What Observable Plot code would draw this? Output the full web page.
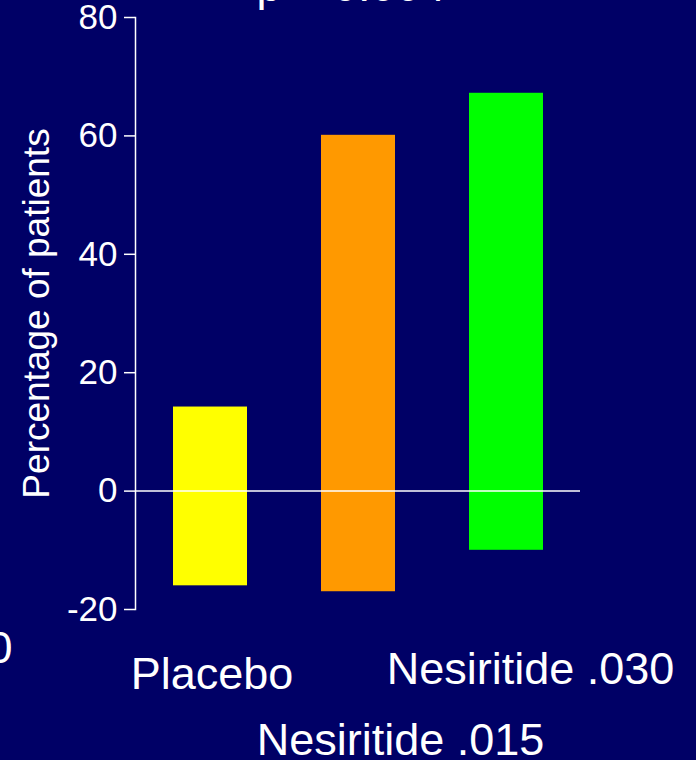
<!DOCTYPE html>
<html><head><meta charset="utf-8">
<script src="https://cdn.jsdelivr.net/npm/d3@7"></script>
<script src="https://cdn.jsdelivr.net/npm/@observablehq/plot@0.6"></script>
<style>html,body{margin:0;padding:0;background:#000066;overflow:hidden}</style>
</head><body><div id="chart"></div>
<script>
const categories = ["Placebo", "Nesiritide .015", "Nesiritide .030"];
const lowValues = [-16, -17, -10];
const highValues = [14.2, 60.1, 67.2];
const barColors = ["#ffff00", "#ff9900", "#00ff00"];
const yTicks = [-20, 0, 20, 40, 60, 80];
const yLabel = "Percentage of patients";
const titleText = "p = 0.004";
const edgeText = "0";

const data = categories.map((c, i) => ({category: c, low: lowValues[i], high: highValues[i], color: barColors[i]}));
// per-label placement (staggered labels as in the slide)
const labelPlacement = [{dx: 1.5, pad: 48}, {dx: 42, pad: 114}, {dx: 24, pad: 43}];
const font = "'Liberation Sans', Arial, Helvetica, sans-serif";

const chart = Plot.plot({
  width: 696,
  height: 760,
  marginLeft: 135,
  marginRight: 116,
  marginTop: 17,
  marginBottom: 151,
  style: {background: "#000066", color: "white", fontFamily: font, overflow: "visible"},
  x: {type: "band", domain: categories, paddingInner: 0.5, paddingOuter: 0.25, axis: null},
  y: {domain: [-20, 80], axis: null},
  marks: [
    Plot.barY(data, {x: "category", y1: "low", y2: "high", fill: "color"}),
    Plot.ruleY([0], {stroke: "white", strokeWidth: 1.5}),
    Plot.frame({anchor: "left", stroke: "white", strokeWidth: 1.5}),
    Plot.axisY({
      ticks: yTicks, tickSize: 11, tickPadding: 7, fontSize: 35, stroke: "white", strokeWidth: 1.5,
      fill: "white", tickFormat: d => String(d), label: null
    }),
    Plot.axisY({
      ticks: [], fontSize: 37, fill: "white", label: yLabel, labelAnchor: "center",
      labelOffset: 113, labelArrow: "none"
    }),
    ...categories.map((c, i) => Plot.axisX({
      ticks: [c], tickSize: 0, tickPadding: labelPlacement[i].pad, dx: labelPlacement[i].dx,
      fontSize: 45, fill: "white", label: null
    })),
    Plot.text([titleText], {frameAnchor: "top", dx: -7, dy: -48, fontSize: 45, fill: "white"}),
    Plot.text([edgeText], {frameAnchor: "bottom-left", textAnchor: "end", dx: -123, dy: 53, fontSize: 45, fill: "white"})
  ]
});
document.getElementById("chart").append(chart);
</script>
</body></html>
